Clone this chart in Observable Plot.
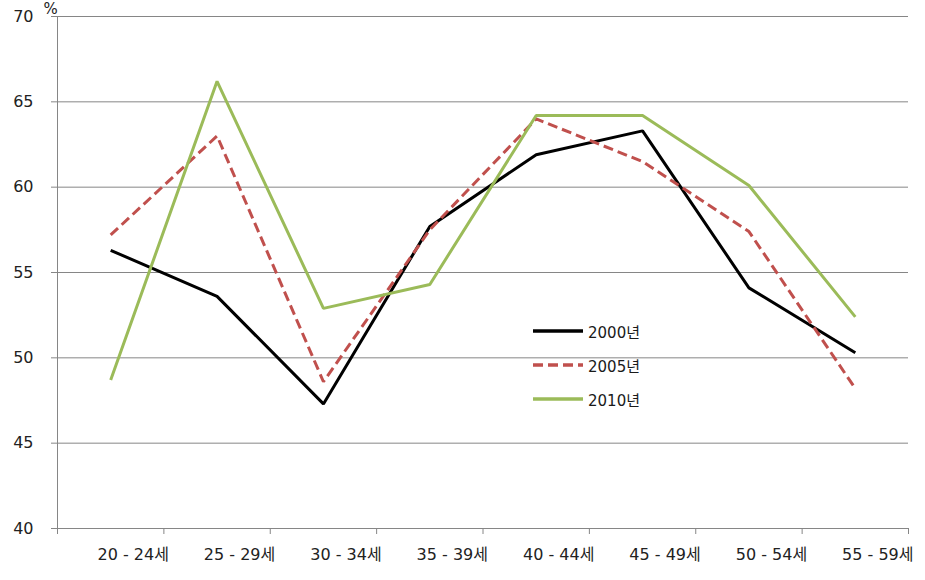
<!DOCTYPE html>
<html><head><meta charset="utf-8">
<script src="https://cdn.jsdelivr.net/npm/d3@7"></script>
<script src="https://cdn.jsdelivr.net/npm/@observablehq/plot@0.6"></script>
<style>
body{margin:0;background:#fff;}
#wrap{position:relative;width:925px;height:580px;font-family:"DejaVu Sans","Noto Sans CJK KR",sans-serif;}
#legend{position:absolute;left:533px;top:314px;font-size:15px;color:#1a1a1a;}
#legend div{display:flex;align-items:center;height:34px;}
#legend svg{margin-right:5px;}
</style></head>
<body><div id="wrap"><div id="chart"></div>
<div id="legend"></div></div>
<script>
const categories = ["20 - 24세","25 - 29세","30 - 34세","35 - 39세","40 - 44세","45 - 49세","50 - 54세","55 - 59세"];
const v2000 = [56.3, 53.6, 47.3, 57.7, 61.9, 63.3, 54.1, 50.3];
const v2005 = [57.2, 63.0, 48.6, 57.5, 64.0, 61.5, 57.4, 48.2];
const v2010 = [48.7, 66.2, 52.9, 54.3, 64.2, 64.2, 60.1, 52.4];
const seriesNames = ["2000년","2005년","2010년"];
const colors = ["#000000","#c0504d","#9bbb59"];
const dashes = [null,"10,5",null];
const yTicks = [40,45,50,55,60,65,70];

const allSeries = [v2000, v2005, v2010];
const data = allSeries.flatMap((vals, s) => vals.map((v, i) => ({series: seriesNames[s], idx: i + 0.5, value: v})));

const marks = [
  Plot.gridY(yTicks.slice(1), {stroke: "#868686", strokeOpacity: 1, strokeWidth: 1}),
  Plot.ruleX([0], {stroke: "#868686"}),
  Plot.ruleY([40], {stroke: "#868686"}),
  Plot.axisY({ticks: yTicks, tickSize: 6, tickPadding: 18, stroke: "#868686", fontSize: 16, fill: "#222", label: null}),
  Plot.axisX({ticks: d3.range(0, 9), tickSize: 6, tickFormat: () => "", stroke: "#868686", label: null}),
  Plot.axisX({ticks: d3.range(1, 9), tickSize: 0, tickPadding: 20, textAnchor: "end", dx: 5, tickFormat: d => categories[d - 1], fontSize: 16, fill: "#222", label: null}),
  Plot.text(["%"], {frameAnchor: "top-left", dx: -14, dy: -13, fontSize: 15, fill: "#222", textAnchor: "start"})
];
seriesNames.forEach((name, s) => {
  marks.push(Plot.line(data.filter(d => d.series === name), {
    x: "idx", y: "value", stroke: colors[s], strokeWidth: 3,
    strokeDasharray: dashes[s] || undefined, strokeLinejoin: "miter", strokeLinecap: "butt"
  }));
});

const chart = Plot.plot({
  width: 925, height: 580,
  marginLeft: 57, marginRight: 17, marginTop: 16, marginBottom: 52,
  style: {fontFamily: "'DejaVu Sans', 'Noto Sans CJK KR', sans-serif", background: "#fff"},
  x: {type: "linear", domain: [0, 8], axis: null},
  y: {domain: [40, 70], axis: null},
  marks
});
document.getElementById("chart").appendChild(chart);

const legend = document.getElementById("legend");
seriesNames.forEach((name, s) => {
  const row = document.createElement("div");
  row.innerHTML = `<svg width="50" height="6"><line x1="0" y1="3" x2="50" y2="3" stroke="${colors[s]}" stroke-width="3.5" ${dashes[s] ? `stroke-dasharray="${dashes[s]}"` : ""}/></svg><span>${name}</span>`;
  legend.appendChild(row);
});
</script></body></html>
